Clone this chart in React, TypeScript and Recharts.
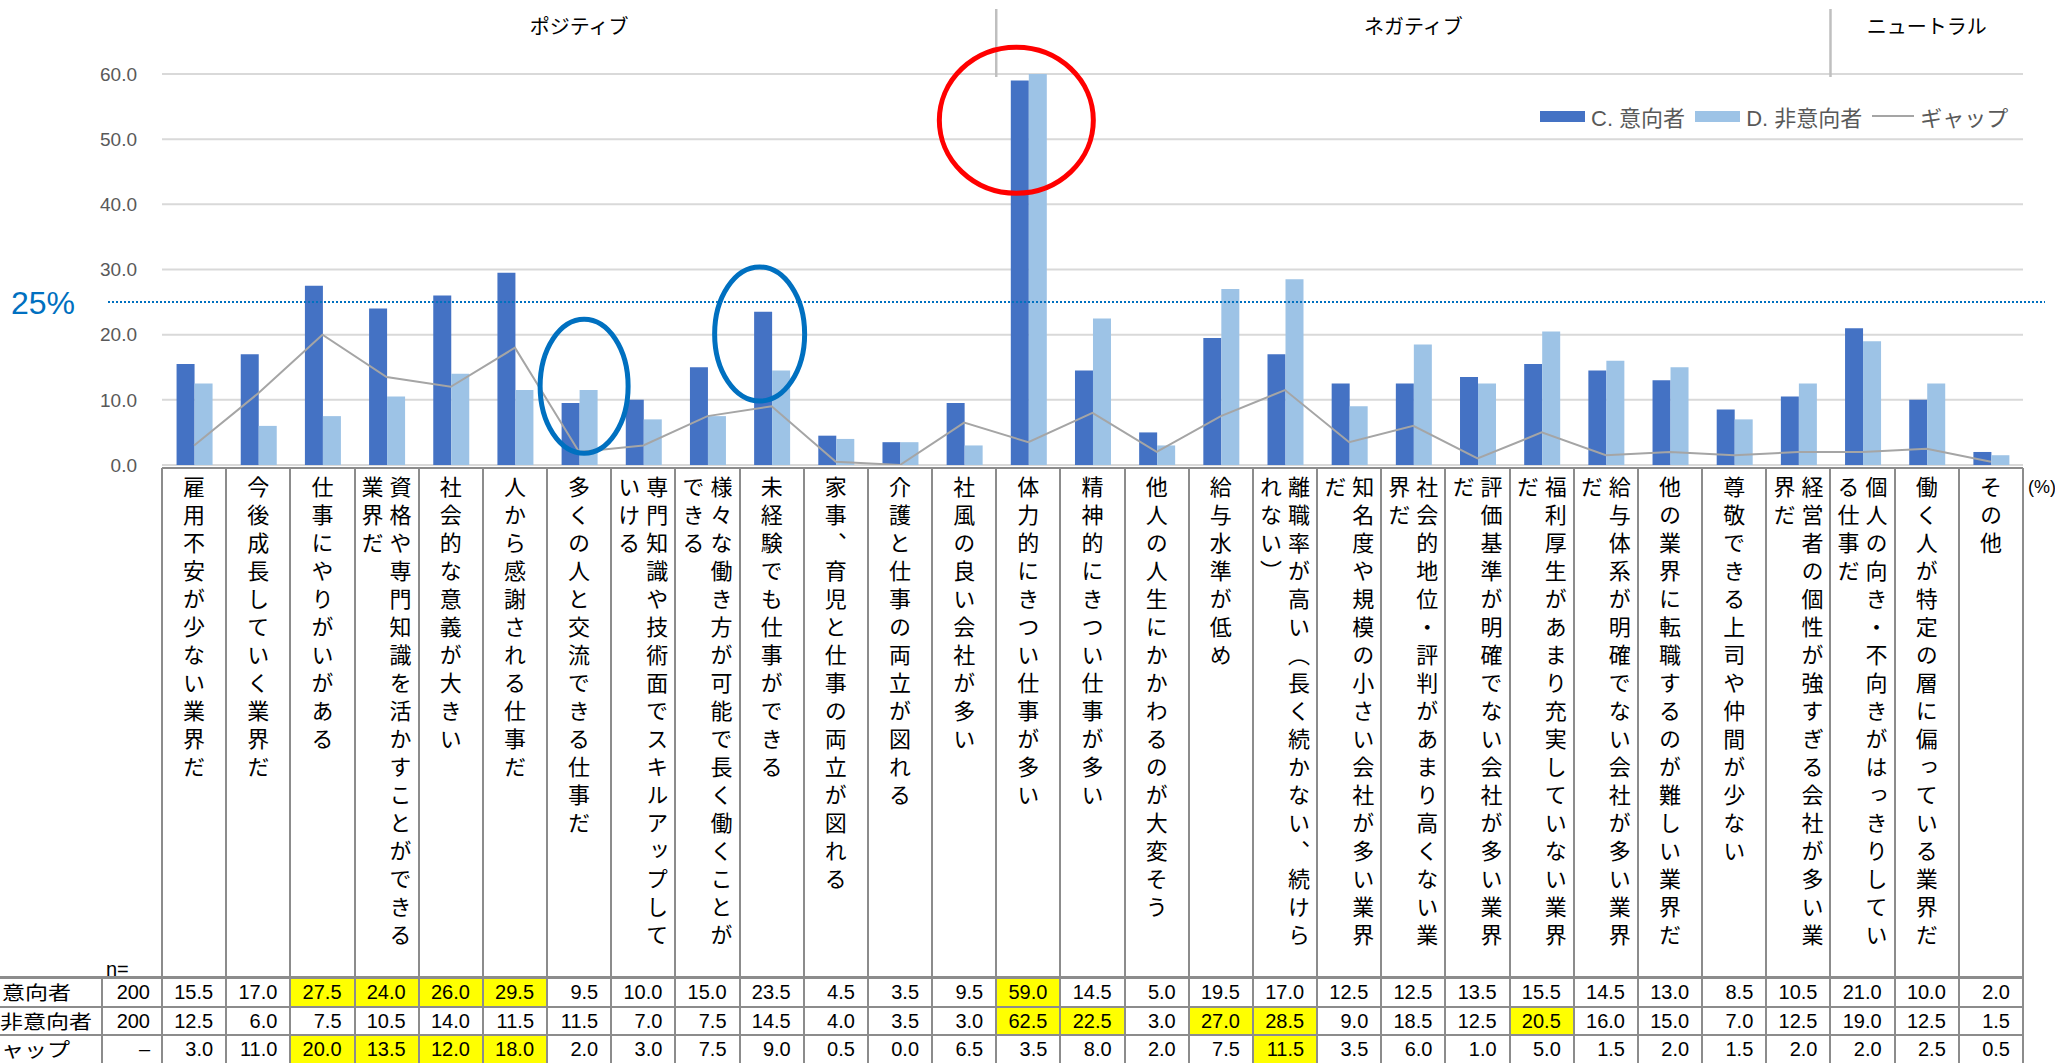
import React from 'react';
import {
  ComposedChart,
  Bar,
  Line,
  XAxis,
  YAxis,
  CartesianGrid,
  ReferenceLine,
  ReferenceDot,
  Legend
} from 'recharts';

// categories in table order (left to right)
const categories = [
  '雇用不安が少ない業界だ',
  '今後成長していく業界だ',
  '仕事にやりがいがある',
  '資格や専門知識を活かすことができる業界だ',
  '社会的な意義が大きい',
  '人から感謝される仕事だ',
  '多くの人と交流できる仕事だ',
  '専門知識や技術面でスキルアップしていける',
  '様々な働き方が可能で長く働くことができる',
  '未経験でも仕事ができる',
  '家事、育児と仕事の両立が図れる',
  '介護と仕事の両立が図れる',
  '社風の良い会社が多い',
  '体力的にきつい仕事が多い',
  '精神的にきつい仕事が多い',
  '他人の人生にかかわるのが大変そう',
  '給与水準が低め',
  '離職率が高い（長く続かない、続けられない）',
  '知名度や規模の小さい会社が多い業界だ',
  '社会的地位・評判があまり高くない業界だ',
  '評価基準が明確でない会社が多い業界だ',
  '福利厚生があまり充実していない業界だ',
  '給与体系が明確でない会社が多い業界だ',
  '他の業界に転職するのが難しい業界だ',
  '尊敬できる上司や仲間が少ない',
  '経営者の個性が強すぎる会社が多い業界だ',
  '個人の向き・不向きがはっきりしている仕事だ',
  '働く人が特定の層に偏っている業界だ',
  'その他'
];

const seriesC = [15.5, 17.0, 27.5, 24.0, 26.0, 29.5, 9.5, 10.0, 15.0, 23.5, 4.5, 3.5, 9.5, 59.0, 14.5, 5.0, 19.5, 17.0, 12.5, 12.5, 13.5, 15.5, 14.5, 13.0, 8.5, 10.5, 21.0, 10.0, 2.0];
const seriesD = [12.5, 6.0, 7.5, 10.5, 14.0, 11.5, 11.5, 7.0, 7.5, 14.5, 4.0, 3.5, 3.0, 62.5, 22.5, 3.0, 27.0, 28.5, 9.0, 18.5, 12.5, 20.5, 16.0, 15.0, 7.0, 12.5, 19.0, 12.5, 1.5];
const gapValues = [3.0, 11.0, 20.0, 13.5, 12.0, 18.0, 2.0, 3.0, 7.5, 9.0, 0.5, 0.0, 6.5, 3.5, 8.0, 2.0, 7.5, 11.5, 3.5, 6.0, 1.0, 5.0, 1.5, 2.0, 1.5, 2.0, 2.0, 2.5, 0.5];

const rowLabels = ['意向者', '非意向者', 'ギャップ'];
const nValues = ['200', '200', '–'];
// yellow cells per row (category index)
const highlightC = [2, 3, 4, 5, 13];
const highlightD = [13, 14, 16, 17, 21];
const highlightGap = [2, 3, 4, 5, 17];

const groups = [
  { name: 'ポジティブ', count: 13 },
  { name: 'ネガティブ', count: 13 },
  { name: 'ニュートラル', count: 3 }
];

const yTicks = [0, 10, 20, 30, 40, 50, 60];
const threshold = 25;

// circled spots: category + value at ellipse centre
const markedCats = ['多くの人と交流できる仕事だ', '未経験でも仕事ができる', '体力的にきつい仕事が多い'];
const markedValues = [12.1, 20.1, 52.9];

// ---- layout ----
const W = 2055;
const H = 1063;
const PLOT_LEFT = 162;
const PLOT_RIGHT = 2023;
const PLOT_TOP = 74;
const PLOT_BOTTOM = 465;
const COL_W = (PLOT_RIGHT - PLOT_LEFT) / categories.length;
const TABLE_TOP = 468;
const ROWS_TOP = 978;
const ROW_H = 28.5;
const LINE = '#8C8C8C';

const FONT_JP = "'Noto Sans CJK JP', sans-serif";
const FONT_NUM = "'Liberation Sans', Arial, 'Noto Sans CJK JP', sans-serif";

const ellipseStyles = [
  { color: '#0070C0', rx: 44, ry: 67, dx: 5 },
  { color: '#0070C0', rx: 45, ry: 67, dx: -12 },
  { color: '#FF0000', rx: 77, ry: 73, dx: -12 }
];

const data = categories.map((name, i) => ({
  name,
  c: seriesC[i],
  d: seriesD[i],
  gap: gapValues[i]
}));

const rows = [seriesC, seriesD, gapValues];
const highlights = [highlightC, highlightD, highlightGap];

const renderLegend = (props: any) => {
  const { payload } = props;
  return (
    <div
      style={{
        display: 'flex',
        alignItems: 'center',
        background: '#fff',
        height: 40,
        paddingLeft: 10,
        fontFamily: FONT_NUM,
        fontSize: 22,
        color: '#595959'
      }}
    >
      {(payload || []).map((entry: any, i: number) => (
        <div key={i} style={{ display: 'flex', alignItems: 'center', marginRight: 10 }}>
          {entry.type === 'line' ? (
            <div style={{ width: 42, height: 0, borderTop: `2px solid ${entry.color}` }} />
          ) : (
            <div style={{ width: 45, height: 11, background: entry.color }} />
          )}
          <span style={{ marginLeft: 6, whiteSpace: 'nowrap' }}>{entry.value}</span>
        </div>
      ))}
    </div>
  );
};

const ThresholdShape = (p: any) => (
  <g>
    <line
      x1={p.x1 - 54}
      x2={p.x2 + 22}
      y1={p.y1}
      y2={p.y2}
      stroke="#0070C0"
      strokeWidth={2}
      strokeDasharray="2 2"
    />
    <text x={11} y={p.y1} dy="0.36em" fill="#0070C0" fontSize={32} fontFamily={FONT_NUM}>
      {threshold}%
    </text>
  </g>
);

const SeparatorShape = (p: any) => (
  <line x1={p.x1} x2={p.x2} y1={9} y2={p.y2 + 3} stroke="#BFBFBF" strokeWidth={2.5} />
);

const App: React.FC = () => {
  let groupStart = 0;
  const headers = groups.map((g) => {
    const left = PLOT_LEFT + groupStart * COL_W;
    groupStart += g.count;
    return (
      <div
        key={g.name}
        style={{
          position: 'absolute',
          left,
          top: 15,
          width: g.count * COL_W,
          height: 22,
          lineHeight: '22px',
          textAlign: 'center',
          fontSize: 20,
          color: '#000'
        }}
      >
        {g.name}
      </div>
    );
  });

  const separatorCats: string[] = [];
  let acc = 0;
  for (let g = 0; g < groups.length - 1; g++) {
    acc += groups[g].count;
    separatorCats.push(categories[acc]);
  }

  const labelOffsets = [2, 0, -22];

  return (
    <div
      style={{
        position: 'absolute',
        left: 0,
        top: 0,
        width: W,
        height: H,
        overflow: 'hidden',
        background: '#fff',
        fontFamily: FONT_JP,
        color: '#000'
      }}
    >
      {headers}

      <div style={{ position: 'absolute', left: 0, top: 0 }}>
        <ComposedChart
          width={W}
          height={PLOT_BOTTOM + 14}
          data={data}
          margin={{ top: PLOT_TOP, right: W - PLOT_RIGHT, bottom: 14, left: PLOT_LEFT - 60 }}
          barCategoryGap="22.7%"
          barGap={0}
        >
          <CartesianGrid vertical={false} stroke="#D9D9D9" strokeWidth={2} />
          <XAxis dataKey="name" hide />
          <YAxis
            width={60}
            domain={[0, 60]}
            ticks={yTicks}
            interval={0}
            allowDataOverflow
            axisLine={false}
            tickLine={false}
            tickSize={0}
            tickMargin={25}
            tickFormatter={(v: number) => v.toFixed(1)}
            tick={{ fill: '#595959', fontSize: 19, fontFamily: FONT_NUM }}
          />
          {separatorCats.map((c) => (
            <ReferenceLine key={c} x={c} position="start" shape={SeparatorShape} />
          ))}
          <Bar dataKey="c" name="C. 意向者" fill="#4472C4" isAnimationActive={false} />
          <Bar dataKey="d" name="D. 非意向者" fill="#9DC3E6" isAnimationActive={false} />
          <Line
            dataKey="gap"
            name="ギャップ"
            type="linear"
            stroke="#A5A5A5"
            strokeWidth={2}
            dot={false}
            activeDot={false}
            isAnimationActive={false}
          />
          <ReferenceLine y={threshold} shape={ThresholdShape} />
          {markedCats.map((cat, i) => {
            const s = ellipseStyles[i];
            return (
              <ReferenceDot
                key={cat}
                x={cat}
                y={markedValues[i]}
                r={s.rx}
                shape={(p: any) => (
                  <ellipse
                    cx={p.cx + s.dx}
                    cy={p.cy}
                    rx={s.rx}
                    ry={s.ry}
                    fill="none"
                    stroke={s.color}
                    strokeWidth={5}
                  />
                )}
              />
            );
          })}
          <Legend
            layout="horizontal"
            verticalAlign="middle"
            align="center"
            content={renderLegend}
            wrapperStyle={{ top: 96, left: 1530, width: 510, height: 40 }}
          />
        </ComposedChart>
      </div>

      {/* vertical category labels */}
      {categories.map((c, i) => (
        <div
          key={c}
          style={{
            position: 'absolute',
            left: PLOT_LEFT + i * COL_W,
            top: 476,
            width: COL_W,
            height: 495,
            display: 'flex',
            justifyContent: 'center',
            alignItems: 'flex-start'
          }}
        >
          <div
            style={{
              writingMode: 'vertical-rl',
              height: 490,
              fontSize: 22,
              letterSpacing: 6,
              lineHeight: '28px'
            }}
          >
            {c}
          </div>
        </div>
      ))}

      <div
        style={{
          position: 'absolute',
          left: 2028,
          top: 476,
          fontSize: 18,
          lineHeight: '22px',
          fontFamily: FONT_NUM
        }}
      >
        (%)
      </div>

      <div
        style={{
          position: 'absolute',
          left: 106,
          top: 958,
          fontSize: 20,
          lineHeight: '22px',
          fontFamily: FONT_NUM
        }}
      >
        n=
      </div>

      {/* data rows */}
      {rows.map((vals, r) => (
        <React.Fragment key={r}>
          <div
            style={{
              position: 'absolute',
              left: labelOffsets[r],
              top: ROWS_TOP + r * ROW_H,
              height: ROW_H,
              lineHeight: `${ROW_H}px`,
              fontSize: 19.5,
              whiteSpace: 'nowrap',
              transform: 'scaleX(1.18)',
              transformOrigin: 'left center'
            }}
          >
            {rowLabels[r]}
          </div>
          <div
            style={{
              position: 'absolute',
              left: 102,
              top: ROWS_TOP + r * ROW_H,
              width: PLOT_LEFT - 102,
              height: ROW_H,
              lineHeight: `${ROW_H}px`,
              fontSize: 20,
              fontFamily: FONT_NUM,
              textAlign: 'right',
              paddingRight: 12,
              boxSizing: 'border-box'
            }}
          >
            {nValues[r]}
          </div>
          {vals.map((v, i) => (
            <div
              key={i}
              style={{
                position: 'absolute',
                left: PLOT_LEFT + i * COL_W,
                top: ROWS_TOP + r * ROW_H,
                width: COL_W,
                height: ROW_H,
                lineHeight: `${ROW_H}px`,
                fontSize: 20,
                fontFamily: FONT_NUM,
                textAlign: 'right',
                paddingRight: 13,
                boxSizing: 'border-box',
                background: highlights[r].includes(i) ? '#FFFF00' : 'transparent'
              }}
            >
              {v.toFixed(1)}
            </div>
          ))}
        </React.Fragment>
      ))}

      {/* table lines */}
      <div style={{ position: 'absolute', left: PLOT_LEFT, top: TABLE_TOP - 1, width: PLOT_RIGHT - PLOT_LEFT, height: 2, background: LINE }} />
      {[0, 1, 2].map((r) => (
        <div
          key={r}
          style={{
            position: 'absolute',
            left: 0,
            top: ROWS_TOP + r * ROW_H - (r === 0 ? 2 : 1),
            width: PLOT_RIGHT + 1,
            height: r === 0 ? 3 : 2,
            background: LINE
          }}
        />
      ))}
      <div style={{ position: 'absolute', left: 101, top: ROWS_TOP, width: 2, height: H - ROWS_TOP, background: LINE }} />
      {Array.from({ length: categories.length + 1 }).map((_, i) => (
        <div
          key={i}
          style={{
            position: 'absolute',
            left: PLOT_LEFT + i * COL_W - 1,
            top: TABLE_TOP,
            width: 2,
            height: H - TABLE_TOP,
            background: LINE
          }}
        />
      ))}
    </div>
  );
};

export default App;
